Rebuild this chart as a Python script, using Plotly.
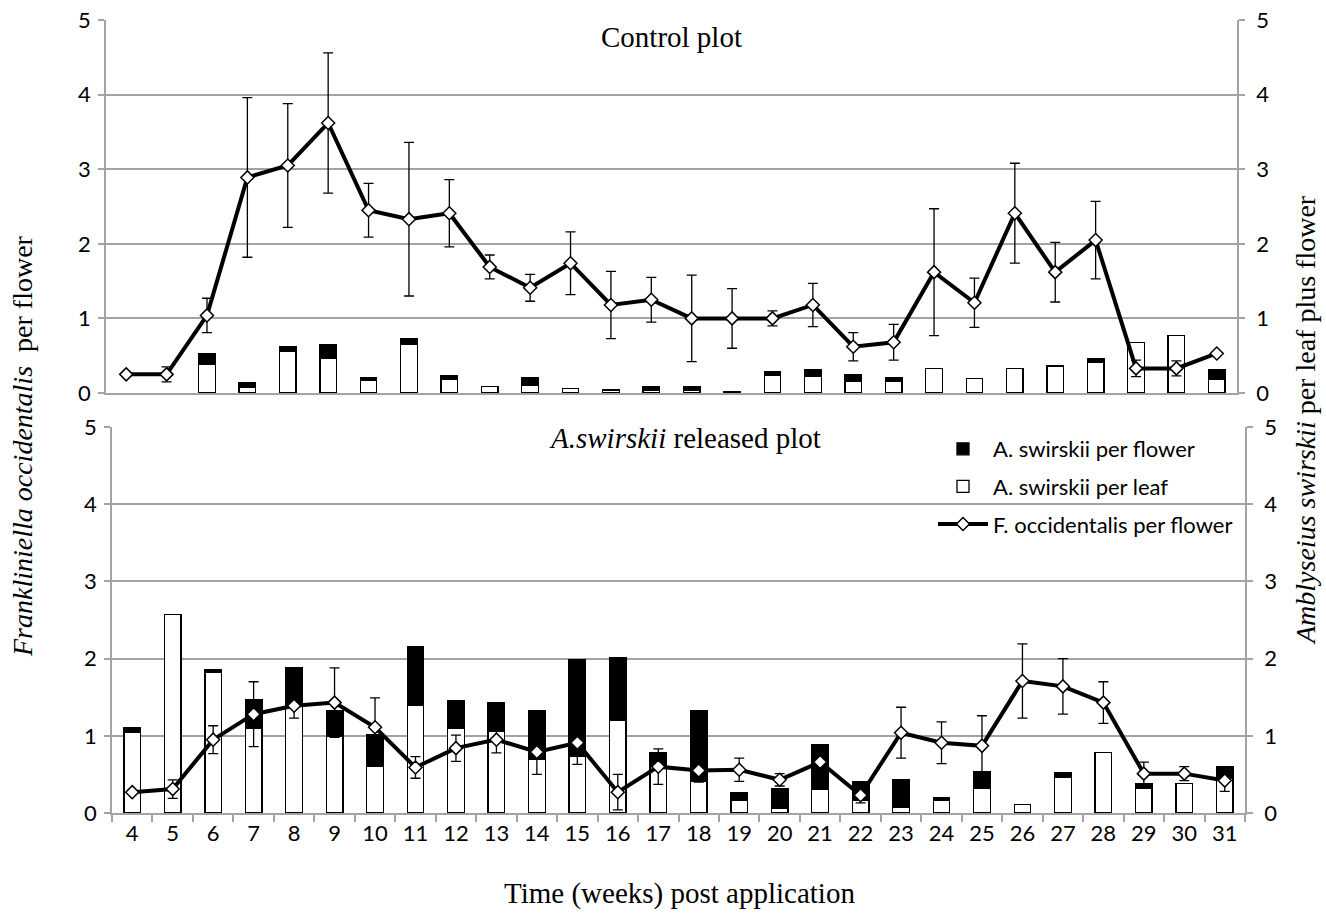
import plotly.graph_objects as go

# ---------------- data ----------------
weeks = ["4", "5", "6", "7", "8", "9", "10", "11", "12", "13", "14", "15", "16", "17",
         "18", "19", "20", "21", "22", "23", "24", "25", "26", "27", "28", "29", "30", "31"]

# Control plot
control_thrips = [0.25, 0.25, 1.04, 2.89, 3.05, 3.62, 2.45, 2.33, 2.41, 1.69, 1.41, 1.74, 1.18, 1.25,
                  1.00, 1.00, 1.00, 1.18, 0.62, 0.68, 1.62, 1.21, 2.41, 1.62, 2.05, 0.33, 0.33, 0.53]
control_thrips_se = [0.0, 0.10, 0.23, 1.07, 0.83, 0.94, 0.36, 1.03, 0.45, 0.16, 0.18, 0.42, 0.45, 0.30,
                     0.58, 0.40, 0.10, 0.29, 0.19, 0.24, 0.85, 0.33, 0.67, 0.40, 0.52, 0.11, 0.10, 0.0]
control_leaf = [0.0, 0.0, 0.39, 0.08, 0.56, 0.47, 0.17, 0.65, 0.18, 0.09, 0.10, 0.06, 0.04, 0.03,
                0.03, 0.0, 0.24, 0.22, 0.16, 0.16, 0.33, 0.19, 0.33, 0.36, 0.41, 0.68, 0.77, 0.18]
control_flower = [0.0, 0.0, 0.14, 0.06, 0.06, 0.18, 0.04, 0.08, 0.05, 0.0, 0.10, 0.0, 0.0, 0.06,
                  0.06, 0.02, 0.05, 0.09, 0.09, 0.04, 0.0, 0.0, 0.0, 0.0, 0.05, 0.0, 0.0, 0.13]

# A. swirskii released plot
released_thrips = [0.27, 0.31, 0.95, 1.28, 1.39, 1.43, 1.11, 0.59, 0.84, 0.95, 0.79, 0.91, 0.27, 0.60,
                   0.55, 0.56, 0.43, 0.66, 0.23, 1.04, 0.91, 0.87, 1.71, 1.64, 1.43, 0.51, 0.51, 0.42]
released_thrips_se = [0.0, 0.12, 0.18, 0.42, 0.16, 0.45, 0.38, 0.14, 0.17, 0.17, 0.29, 0.28, 0.23, 0.23,
                      0.15, 0.15, 0.08, 0.15, 0.10, 0.33, 0.27, 0.39, 0.48, 0.36, 0.27, 0.15, 0.09, 0.14]
released_leaf = [1.05, 2.57, 1.82, 1.10, 1.40, 0.99, 0.60, 1.39, 1.10, 1.06, 0.70, 0.74, 1.20, 0.60,
                 0.41, 0.16, 0.06, 0.31, 0.16, 0.07, 0.16, 0.32, 0.11, 0.46, 0.78, 0.32, 0.38, 0.45]
released_flower = [0.05, 0.0, 0.04, 0.37, 0.48, 0.33, 0.42, 0.77, 0.36, 0.37, 0.62, 1.24, 0.81, 0.18,
                   0.91, 0.10, 0.26, 0.57, 0.25, 0.36, 0.04, 0.22, 0.0, 0.06, 0.0, 0.06, 0.0, 0.15]

y_ticks = [0, 1, 2, 3, 4, 5]

# ---------------- style ----------------
W, H = 1326, 915
GRID = "#a3a3a3"
SERIF = "Liberation Serif, Times New Roman, serif"
SANS = "Lato, Open Sans, sans-serif"
BAR_LINE = dict(color="black", width=1.3)
TICK_FONT = dict(family=SANS, size=22, color="black")


def px_x(p):
    return p / W


def px_y(p):
    return (H - p) / H


def no_zero(vals):
    # zero-height bars are not drawn in the reference
    return [v if v > 0 else None for v in vals]


fig = go.Figure()


def add_panel(xa, ya_bar, ya_line, leaf, flower, thrips, se, show_legend):
    fig.add_trace(go.Bar(x=weeks, y=no_zero(leaf), name="A. swirskii per leaf",
                         marker=dict(color="white", line=BAR_LINE),
                         xaxis=xa, yaxis=ya_bar, showlegend=show_legend,
                         legendgroup="leaf", legendrank=2))
    fig.add_trace(go.Bar(x=weeks, y=no_zero(flower), name="A. swirskii per flower",
                         marker=dict(color="black", line=BAR_LINE),
                         xaxis=xa, yaxis=ya_bar, showlegend=show_legend,
                         legendgroup="flower", legendrank=1))
    fig.add_trace(go.Scatter(x=weeks, y=thrips, name="F. occidentalis per flower",
                             mode="lines+markers",
                             line=dict(color="black", width=4),
                             marker=dict(symbol="diamond", size=10, color="white",
                                         line=dict(color="black", width=1.5)),
                             error_y=dict(type="data", array=se, visible=True,
                                          color="black", thickness=1.3, width=5),
                             xaxis=xa, yaxis=ya_line, showlegend=show_legend,
                             legendgroup="thrips", legendrank=3))


# bottom panel (released) : x / y (bars, right) / y2 (line, left)
add_panel("x", "y", "y2", released_leaf, released_flower, released_thrips, released_thrips_se, True)
# top panel (control) : x2 / y3 (bars, right) / y4 (line, left)
add_panel("x2", "y3", "y4", control_leaf, control_flower, control_thrips, control_thrips_se, False)

yaxis_common = dict(range=[0, 5], tickvals=y_ticks, showline=True, linecolor=GRID, linewidth=1.5,
                    ticks="outside", ticklen=6, tickcolor=GRID, tickwidth=1.5,
                    tickfont=TICK_FONT, zeroline=False, fixedrange=True, automargin=False)

bottom_dom = [px_y(813), px_y(427)]
top_dom = [px_y(393), px_y(20)]
x_range = [-0.5, len(weeks) - 0.5]

fig.update_layout(
    width=W, height=H,
    margin=dict(l=0, r=0, t=0, b=0, autoexpand=False),
    paper_bgcolor="white", plot_bgcolor="white",
    barmode="stack", bargap=0.59,
    xaxis=dict(domain=[px_x(112), px_x(1245)], type="category", anchor="y", range=x_range,
               showline=True, linecolor=GRID, linewidth=1.5, automargin=False,
               ticks="outside", tickson="boundaries", ticklen=7, tickcolor=GRID, tickwidth=1.5,
               tickfont=TICK_FONT, showgrid=False, ticklabelstandoff=0),
    xaxis2=dict(domain=[px_x(106), px_x(1237)], type="category", anchor="y3", range=x_range,
                showline=True, linecolor=GRID, linewidth=1.5, ticks="", automargin=False,
                showticklabels=False, showgrid=False),
    yaxis=dict(domain=bottom_dom, anchor="x", side="right", showgrid=True,
               gridcolor=GRID, gridwidth=1.5, ticklabelstandoff=7, **yaxis_common),
    yaxis2=dict(anchor="x", overlaying="y", side="left", showgrid=False,
                ticklabelstandoff=3, **yaxis_common),
    yaxis3=dict(domain=top_dom, anchor="x2", side="right", showgrid=True,
                gridcolor=GRID, gridwidth=1.5, ticklabelstandoff=7, **yaxis_common),
    yaxis4=dict(anchor="x2", overlaying="y3", side="left", showgrid=False,
                ticklabelstandoff=3, **yaxis_common),
    legend=dict(x=px_x(933), y=px_y(428), xanchor="left", yanchor="top",
                bgcolor="rgba(0,0,0,0)", font=dict(family=SANS, size=22, color="black"),
                traceorder="grouped", tracegroupgap=6, itemwidth=50),
    showlegend=True,
)

annotations = [
    dict(text="Control plot", x=px_x(671), y=px_y(37), font=dict(family=SERIF, size=29)),
    dict(text="<i>A.swirskii</i> released plot", x=px_x(685), y=px_y(438),
         font=dict(family=SERIF, size=29)),
    dict(text="Time (weeks) post application", x=px_x(679), y=px_y(893),
         font=dict(family=SERIF, size=29)),
    dict(text="<i>Frankliniella occidentalis</i>  per flower", x=px_x(22), y=px_y(446),
         textangle=-90, font=dict(family=SERIF, size=28)),
    dict(text="<i>Amblyseius swirskii</i> per leaf plus flower", x=px_x(1306), y=px_y(420),
         textangle=-90, font=dict(family=SERIF, size=28)),
]
for a in annotations:
    a.update(xref="paper", yref="paper", showarrow=False, xanchor="center", yanchor="middle")
    a["font"]["color"] = "black"
fig.update_layout(annotations=annotations)

fig.write_html(
    "out.html",
    config={"displayModeBar": False},
    post_script="document.body.style.margin='0';document.body.style.overflow='hidden';",
)
